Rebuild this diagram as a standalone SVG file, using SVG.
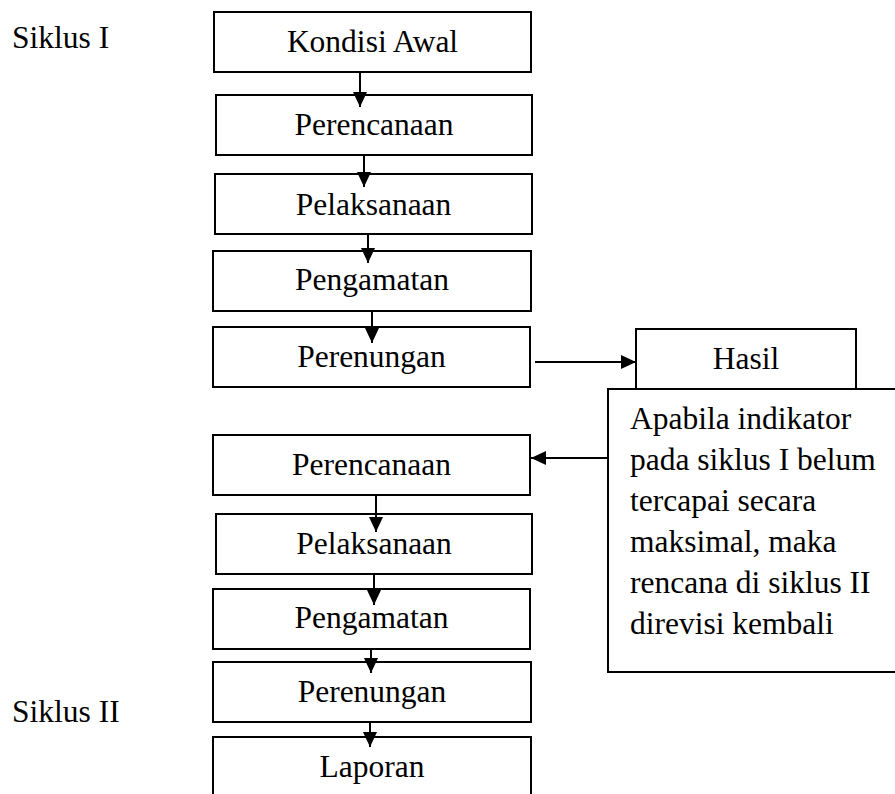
<svg xmlns="http://www.w3.org/2000/svg" width="895" height="794" viewBox="0 0 895 794">
<defs>
<style>
.box{fill:#fff;stroke:#000;stroke-width:2}
.t{font-family:"Liberation Serif","Times New Roman",serif;font-size:31.5px;fill:#000}
.c{text-anchor:middle}
.con line{stroke:#000;stroke-width:2}
</style>
<marker id="ah" markerUnits="userSpaceOnUse" markerWidth="16" markerHeight="14" refX="15" refY="7" orient="auto">
<path d="M0,0 L15,7 L0,14 z" fill="#000"/>
</marker>
</defs>
<rect width="895" height="794" fill="#fff"/>
<text class="t" x="12" y="48">Siklus I</text>
<text class="t" x="12" y="722">Siklus II</text>
<g id="n1"><rect class="box" x="214" y="12" width="317" height="60"/><text class="t c" x="372.5" y="52">Kondisi Awal</text></g>
<g id="n2"><rect class="box" x="216" y="95" width="316" height="60"/><text class="t c" x="374" y="135">Perencanaan</text></g>
<g id="n3"><rect class="box" x="215" y="174" width="317" height="60"/><text class="t c" x="373.5" y="215">Pelaksanaan</text></g>
<g id="n4"><rect class="box" x="213" y="251" width="318" height="60"/><text class="t c" x="372" y="290">Pengamatan</text></g>
<g id="n5"><rect class="box" x="213" y="327" width="317" height="60"/><text class="t c" x="371.5" y="367">Perenungan</text></g>
<g id="n6"><rect class="box" x="636" y="329" width="220" height="70"/><text class="t c" x="746" y="369">Hasil</text></g>
<g id="n7"><rect class="box" x="608" y="389" width="300" height="283"/>
<text class="t" x="630" y="429">Apabila indikator</text>
<text class="t" x="630" y="470">pada siklus I belum</text>
<text class="t" x="630" y="511">tercapai secara</text>
<text class="t" x="630" y="552">maksimal, maka</text>
<text class="t" x="630" y="593">rencana di siklus II</text>
<text class="t" x="630" y="634">direvisi kembali</text></g>
<g id="n8"><rect class="box" x="213" y="435" width="317" height="60"/><text class="t c" x="371.5" y="475">Perencanaan</text></g>
<g id="n9"><rect class="box" x="216" y="514" width="316" height="60"/><text class="t c" x="374" y="554">Pelaksanaan</text></g>
<g id="n10"><rect class="box" x="213" y="589" width="317" height="60"/><text class="t c" x="371.5" y="628">Pengamatan</text></g>
<g id="n11"><rect class="box" x="213" y="662" width="318" height="60"/><text class="t c" x="372" y="702">Perenungan</text></g>
<g id="n12"><rect class="box" x="213" y="737" width="318" height="80"/><text class="t c" x="372" y="777">Laporan</text></g>
<g id="connectors" class="con">
<line x1="360" y1="72" x2="360" y2="107" marker-end="url(#ah)"/>
<line x1="364" y1="155" x2="364" y2="187" marker-end="url(#ah)"/>
<line x1="368" y1="234" x2="368" y2="263" marker-end="url(#ah)"/>
<line x1="372" y1="311" x2="372" y2="343" marker-end="url(#ah)"/>
<line x1="535" y1="362" x2="636" y2="362" marker-end="url(#ah)"/>
<line x1="608" y1="458" x2="531" y2="458" marker-end="url(#ah)"/>
<line x1="376" y1="495" x2="376" y2="532" marker-end="url(#ah)"/>
<line x1="374" y1="574" x2="374" y2="605" marker-end="url(#ah)"/>
<line x1="371" y1="649" x2="371" y2="673" marker-end="url(#ah)"/>
<line x1="370" y1="722" x2="370" y2="747" marker-end="url(#ah)"/>
</g>
</svg>
